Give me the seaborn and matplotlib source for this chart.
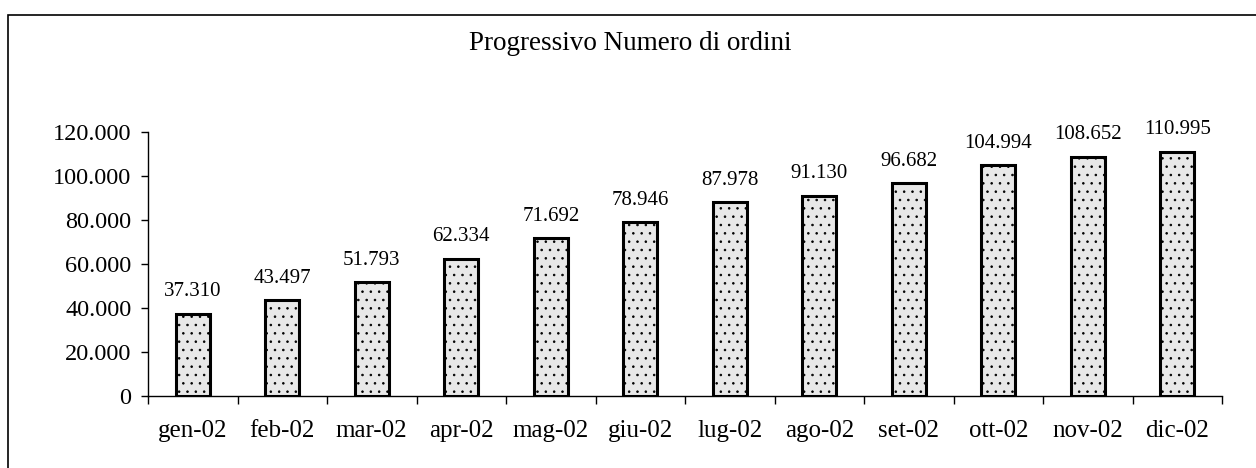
import matplotlib
matplotlib.use("Agg")
import matplotlib.pyplot as plt
import seaborn as sns
import pandas as pd
from matplotlib.patches import Rectangle
from matplotlib.ticker import FuncFormatter, FixedLocator

months = ["gen-02", "feb-02", "mar-02", "apr-02", "mag-02", "giu-02",
          "lug-02", "ago-02", "set-02", "ott-02", "nov-02", "dic-02"]
orders = [37310, 43497, 51793, 62334, 71692, 78946,
          87978, 91130, 96682, 104994, 108652, 110995]
title = "Progressivo Numero di ordini"

sns.set_theme(style="white")
plt.rcParams['font.family'] = ['Liberation Serif', 'DejaVu Serif']
plt.rcParams['hatch.color'] = '#a0a0a0'
plt.rcParams['hatch.linewidth'] = 0.6

df = pd.DataFrame({"mese": months, "ordini": orders})

fig = plt.figure(figsize=(12.56, 4.68), dpi=100)
ax = fig.add_axes([148/1256, 1-396/468, (1222-148)/1256, (396-132)/468])

sns.barplot(data=df, x="mese", y="ordini", color="#e8e8e8", width=0.38,
            edgecolor="black", linewidth=2.2, saturation=1, ax=ax)
for p in ax.patches:
    p.set_hatch("..")

def fmt(v, pos=None):
    return f"{int(v):,}".replace(",", ".")

ax.set_ylim(0, 120000)
ax.set_xlim(-0.5, 11.5)
ax.set_yticks(range(0, 120001, 20000))
ax.yaxis.set_major_formatter(FuncFormatter(fmt))
ax.set_xlabel("")
ax.set_ylabel("")

for i, v in enumerate(orders):
    ax.annotate(fmt(v), (i, v), xytext=(0, 9), textcoords="offset points",
                ha="center", va="bottom", fontsize=15, color="black")

for s in ["top", "right"]:
    ax.spines[s].set_visible(False)
for s in ["left", "bottom"]:
    ax.spines[s].set_color("black")
    ax.spines[s].set_linewidth(1.0)

ax.tick_params(axis="y", which="major", left=True, length=5, width=1, color="black",
               labelsize=17.5, pad=7, labelcolor="black")
ax.tick_params(axis="x", which="major", bottom=False, labelsize=18, pad=11, labelcolor="black")
ax.xaxis.set_minor_locator(FixedLocator([i - 0.5 for i in range(13)]))
ax.tick_params(axis="x", which="minor", bottom=True, length=6, width=1, color="black")

fig.text(630/1256, 1-44/468, title, ha="center", va="center", fontsize=19.5, color="black")

fig.patches.append(Rectangle((8/1256, -0.05), 1.1, 1-15/468+0.05, transform=fig.transFigure,
                             fill=False, edgecolor="black", linewidth=1.2))

fig.savefig("out.png", dpi=100)
